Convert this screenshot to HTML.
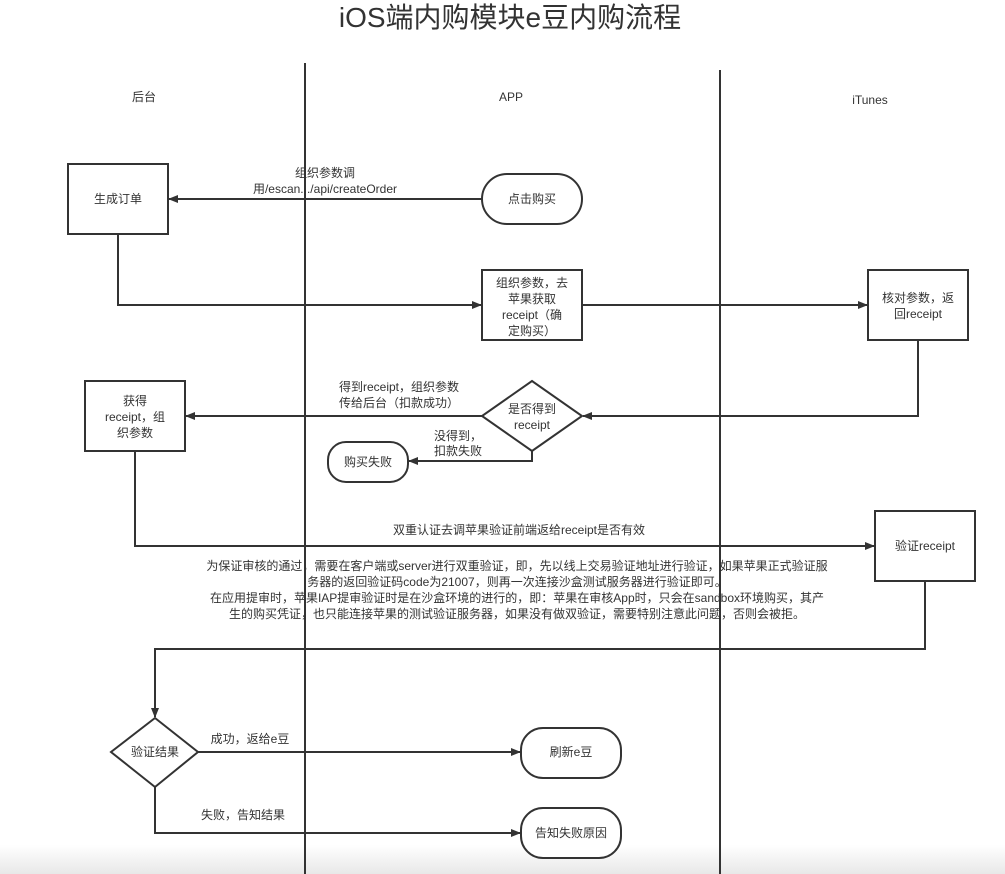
<!DOCTYPE html>
<html><head><meta charset="utf-8"><style>
html,body{margin:0;padding:0;background:#fff;}
svg{display:block;}
text{font-family:"Liberation Sans","Noto Sans CJK SC",sans-serif;font-size:12px;fill:#333;}
</style></head><body>
<svg width="1005" height="874" viewBox="0 0 1005 874" xmlns="http://www.w3.org/2000/svg">
<defs>
<marker id="a" markerWidth="10" markerHeight="8" refX="9" refY="4" orient="auto" markerUnits="userSpaceOnUse"><path d="M0,0 L10,4 L0,8 Z" fill="#333"/></marker>
<linearGradient id="g" x1="0" y1="0" x2="0" y2="1"><stop offset="0" stop-color="#fff"/><stop offset="1" stop-color="#e8e8e8"/></linearGradient>
</defs>
<rect x="0" y="845" width="1005" height="29" fill="url(#g)"/>
<text x="510" y="27" text-anchor="middle" style="font-size:28px">iOS端内购模块e豆内购流程</text>
<g stroke="#333" stroke-width="2" fill="none">
<line x1="305" y1="63" x2="305" y2="874"/>
<line x1="720" y1="70" x2="720" y2="874"/>
<rect x="68" y="164" width="100" height="70" fill="#fff"/>
<rect x="482" y="174" width="100" height="50" rx="25" fill="#fff"/>
<rect x="482" y="270" width="100" height="70" fill="#fff"/>
<rect x="868" y="270" width="100" height="70" fill="#fff"/>
<polygon points="532,381 582,416 532,451 482,416" fill="#fff"/>
<rect x="85" y="381" width="100" height="70" fill="#fff"/>
<rect x="328" y="442" width="80" height="40" rx="18" fill="#fff"/>
<rect x="875" y="511" width="100" height="70" fill="#fff"/>
<polygon points="155,718 198,752 155,787 111,752" fill="#fff"/>
<rect x="521" y="728" width="100" height="50" rx="22" fill="#fff"/>
<rect x="521" y="808" width="100" height="50" rx="22" fill="#fff"/>
<line x1="482" y1="199" x2="169" y2="199" marker-end="url(#a)"/>
<polyline points="118,234 118,305 481,305" marker-end="url(#a)"/>
<line x1="582" y1="305" x2="867" y2="305" marker-end="url(#a)"/>
<polyline points="918,340 918,416 583,416" marker-end="url(#a)"/>
<line x1="482" y1="416" x2="186" y2="416" marker-end="url(#a)"/>
<polyline points="532,451 532,461 409,461" marker-end="url(#a)"/>
<polyline points="135,451 135,546 874,546" marker-end="url(#a)"/>
<polyline points="925,581 925,649 155,649 155,717" marker-end="url(#a)"/>
<line x1="198" y1="752" x2="520" y2="752" marker-end="url(#a)"/>
<polyline points="155,787 155,833 520,833" marker-end="url(#a)"/>
</g>
<text x="144" y="101" text-anchor="middle">后台</text>
<text x="511" y="101" text-anchor="middle">APP</text>
<text x="870" y="104" text-anchor="middle">iTunes</text>
<text x="325" y="177" text-anchor="middle">组织参数调</text>
<text x="325" y="193" text-anchor="middle">用/escan.../api/createOrder</text>
<text x="118" y="203" text-anchor="middle">生成订单</text>
<text x="532" y="203" text-anchor="middle">点击购买</text>
<text x="532" y="287" text-anchor="middle">组织参数，去</text>
<text x="532" y="303" text-anchor="middle">苹果获取</text>
<text x="532" y="319" text-anchor="middle">receipt（确</text>
<text x="532" y="335" text-anchor="middle">定购买）</text>
<text x="918" y="302" text-anchor="middle">核对参数，返</text>
<text x="918" y="318" text-anchor="middle">回receipt</text>
<text x="532" y="413" text-anchor="middle">是否得到</text>
<text x="532" y="429" text-anchor="middle">receipt</text>
<text x="399" y="391" text-anchor="middle">得到receipt，组织参数</text>
<text x="399" y="407" text-anchor="middle">传给后台（扣款成功）</text>
<text x="135" y="405" text-anchor="middle">获得</text>
<text x="135" y="421" text-anchor="middle">receipt，组</text>
<text x="135" y="437" text-anchor="middle">织参数</text>
<text x="458" y="440" text-anchor="middle">没得到，</text>
<text x="458" y="455" text-anchor="middle">扣款失败</text>
<text x="368" y="466" text-anchor="middle">购买失败</text>
<text x="519" y="534" text-anchor="middle">双重认证去调苹果验证前端返给receipt是否有效</text>
<text x="925" y="550" text-anchor="middle">验证receipt</text>
<text x="517" y="570" text-anchor="middle">为保证审核的通过，需要在客户端或server进行双重验证，即，先以线上交易验证地址进行验证，如果苹果正式验证服</text>
<text x="517" y="586" text-anchor="middle">务器的返回验证码code为21007，则再一次连接沙盒测试服务器进行验证即可。</text>
<text x="517" y="602" text-anchor="middle">在应用提审时，苹果IAP提审验证时是在沙盒环境的进行的，即：苹果在审核App时，只会在sandbox环境购买，其产</text>
<text x="517" y="618" text-anchor="middle">生的购买凭证，也只能连接苹果的测试验证服务器，如果没有做双验证，需要特别注意此问题，否则会被拒。</text>
<text x="155" y="756" text-anchor="middle">验证结果</text>
<text x="250" y="743" text-anchor="middle">成功，返给e豆</text>
<text x="571" y="756" text-anchor="middle">刷新e豆</text>
<text x="243" y="819" text-anchor="middle">失败，告知结果</text>
<text x="571" y="837" text-anchor="middle">告知失败原因</text>
</svg>
</body></html>
